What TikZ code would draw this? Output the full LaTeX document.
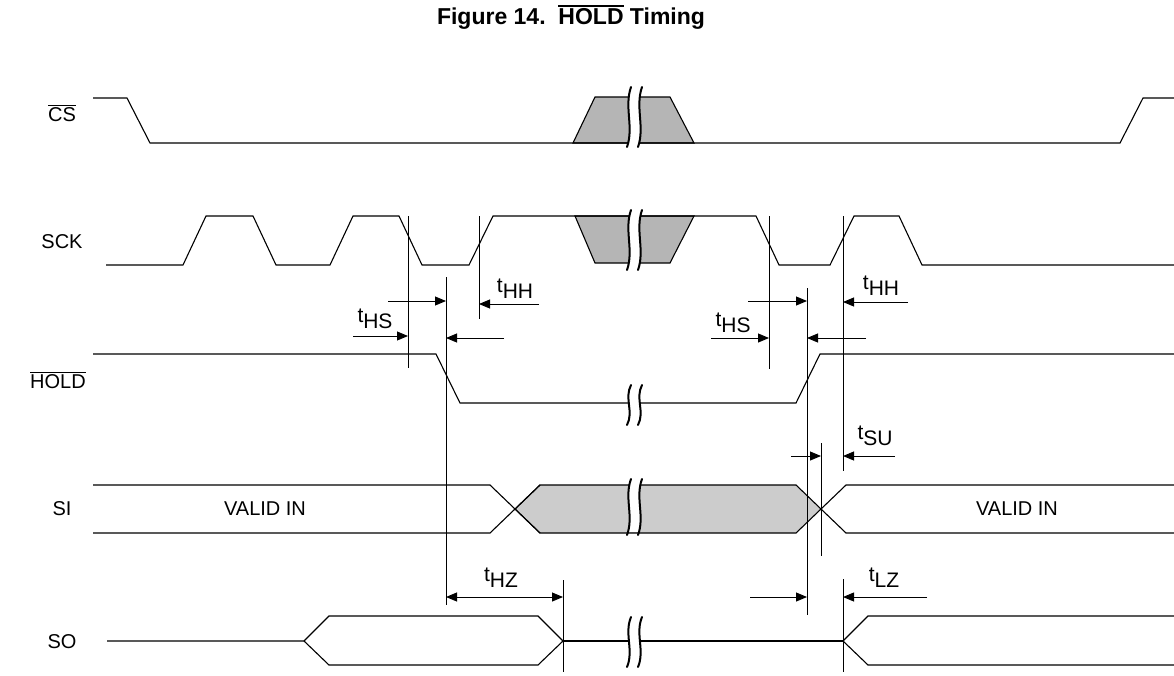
\documentclass[tikz,border=0pt]{standalone}
\usepackage{fontspec}
\setmainfont{Liberation Sans}
\usepackage{tikz}
\usetikzlibrary{arrows.meta}
\definecolor{holdgray}{gray}{0.71}
\definecolor{datagray}{gray}{0.8}
\tikzstyle{wave} = [draw, line width=1.1pt, line join=miter]
\tikzstyle{marker} = [draw, line width=0.9pt]
\tikzstyle{line} = [draw, line width=0.9pt, -{Triangle[length=11pt,width=9pt]}]
\tikzstyle{dline} = [draw, line width=0.9pt, {Triangle[length=11pt,width=9pt]}-{Triangle[length=11pt,width=9pt]}]
\tikzstyle{brk} = [draw, line width=2pt, line cap=round]
\tikzstyle{signame} = [font=\fontsize{20}{22}\selectfont, inner sep=0pt]
\tikzstyle{tlabel} = [font=\fontsize{21}{23}\selectfont, inner sep=0pt]
\newcommand{\tsub}[1]{t\raisebox{-0.55ex}{#1}}
\newcommand{\ovl}[2][1pt]{\vbox{\hrule height #1\kern1.8pt\hbox{#2}}}
\newcommand{\brkmark}[3]{%
  \fill[white] (#1,#2-#3+3) rectangle (#1+11,#2+#3-3);
  \foreach \dx in {0,11}
    \path[brk] (#1+\dx+2,#2-#3) .. controls (#1+\dx-5,#2-#3/3) and (#1+\dx+5,#2+#3/3) .. (#1+\dx-2,#2+#3);
}

\begin{document}
\begin{tikzpicture}[x=1pt, y=-1pt]
  \useasboundingbox (0,0) rectangle (1174,675);
   % Place nodes
    \node [font=\fontsize{23}{26}\selectfont\bfseries] (title) at (571,17) {Figure 14.\ \ \ovl[2pt]{HOLD} Timing};
    \node [signame] (cs) at (62,113) {\ovl{CS}};
    \node [signame] (sck) at (62,242) {SCK};
    \node [signame] (hold) at (58,380) {\ovl{HOLD}};
    \node [signame] (si) at (62,509) {SI};
    \node [signame] (so) at (62,642) {SO};
    \node [signame] (validl) at (265,509) {VALID IN};
    \node [signame] (validr) at (1017,509) {VALID IN};
   % Waveforms
    \path [wave, fill=holdgray] (573,143) -- (595,97) -- (670,97) -- (694,143) -- cycle;
    \path [wave] (93,98) -- (127,98) -- (150,143) -- (1120,143) -- (1143,98) -- (1174,98);
    \path [wave, fill=holdgray] (575,216) -- (595,263) -- (670,263) -- (694,216) -- cycle;
    \path [wave] (106,265) -- (183,265) -- (206,216) -- (253,216) -- (276,265) -- (330,265)
      -- (353,216) -- (399,216) -- (422,265) -- (469,265) -- (493,216) -- (756,216)
      -- (779,265) -- (830,265) -- (854,216) -- (899,216) -- (922,265) -- (1174,265);
    \path [wave] (93,354) -- (436,354) -- (460,403) -- (796,403) -- (820,354) -- (1174,354);
    \path [wave, fill=datagray] (515,509) -- (540,485) -- (796,485) -- (821,509) -- (796,533) -- (540,533) -- cycle;
    \path [wave] (93,485) -- (490,485) -- (540,533);
    \path [wave] (93,533) -- (490,533) -- (540,485);
    \path [wave] (1174,485) -- (846,485) -- (821,509) -- (846,533) -- (1174,533);
    \path [wave] (107,641) -- (304,641) -- (329,616) -- (538,616) -- (563,641) -- (538,665) -- (329,665) -- (304,641);
    \path [wave] (563,641) -- (843,641);
    \path [wave] (1174,616) -- (868,616) -- (843,641) -- (868,665) -- (1174,665);
   % Breaks
    \brkmark{629}{117}{30}
    \brkmark{629}{240}{30}
    \brkmark{629}{405}{20}
    \brkmark{629}{507}{28}
    \brkmark{629}{642}{25}
   % Timing markers
    \foreach \n/\x/\ya/\yb in {HSa/408/216/368, HZa/446/277/605, HHa/479/216/319, HZb/563/580/672,
        HSb/769/216/369, LZ/807/288/615, SU/821/443/556, HHb/843/216/471, LZb/843/579/672}
      \path [marker] (\x,\ya) coordinate (m\n) -- (\x,\yb);
   % Draw edges
    \foreach \a/\x/\y/\m in {a1/388/301/HZa, a2/353/336/HSa, a3/539/304/HHa, a4/504/338/HZa,
        b1/748/301/LZ, b2/711/338/HSb, b3/908/302/HHb, b4/866/338/LZ,
        c1/791/456/SU, c2/895/456/HHb, d1/750/597/LZ, d2/927/597/HHb}
      \path [line] (\x,\y) coordinate (\a) -- (\a -| m\m);
    \coordinate (hz) at (446,597);
    \path [dline] (hz) -- (hz -| mHZb);
    \node [tlabel] at (375,319) {\tsub{HS}};
    \node [tlabel] at (515,289) {\tsub{HH}};
    \node [tlabel] at (733,323) {\tsub{HS}};
    \node [tlabel] at (881,286) {\tsub{HH}};
    \node [tlabel] at (875,436) {\tsub{SU}};
    \node [tlabel] at (884,578) {\tsub{LZ}};
    \node [tlabel] at (501,578) {\tsub{HZ}};
\end{tikzpicture}
\end{document}
